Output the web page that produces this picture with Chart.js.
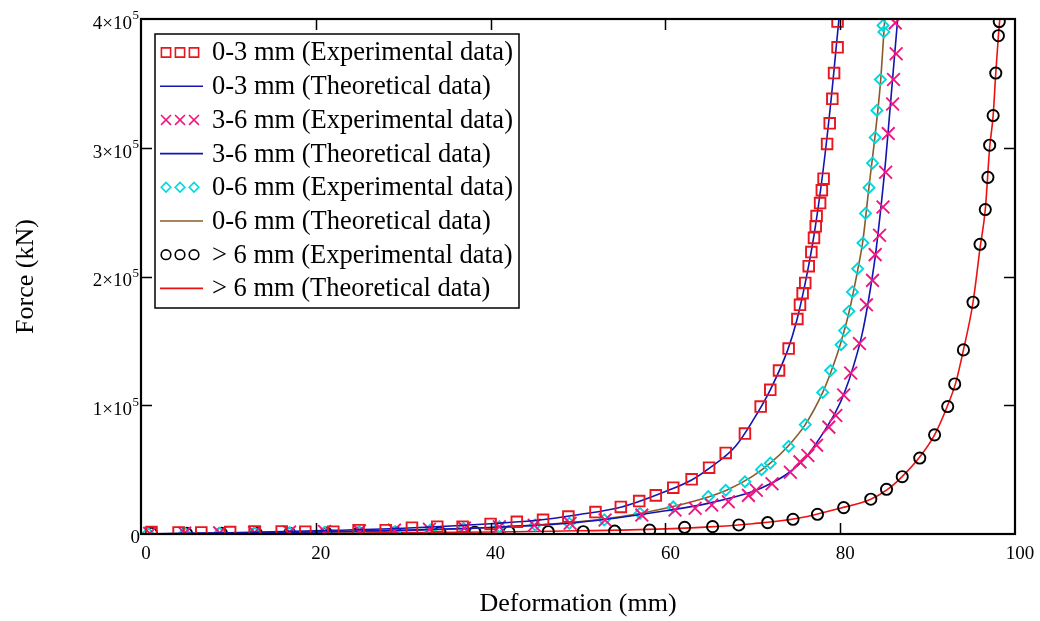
<!DOCTYPE html>
<html>
<head>
<meta charset="utf-8">
<script src="https://cdn.jsdelivr.net/npm/chart.js@4.4.0/dist/chart.umd.min.js"></script>
<style>
    html, body { margin: 0; padding: 0; background: #fff; }
</style>
</head>
<body>
<canvas id="forceChart" width="1040" height="621"></canvas>
<script>
// experimental points (deformation mm / force kN)
const exp03X = [1.2, 4.3, 6.9, 10.2, 13.0, 16.1, 18.8, 22.0, 24.9, 28.0, 31.0, 33.9, 36.8, 40.0, 43.0, 46.0, 48.9, 52.0, 54.9, 57.0, 58.9, 60.9, 63.0, 65.0, 66.9, 69.1, 70.9, 72.0, 73.0, 74.1, 75.1, 75.4, 75.7, 76.0, 76.4, 76.7, 77.0, 77.2, 77.3, 77.7, 77.9, 78.1, 78.5, 78.8, 79.1, 79.3, 79.7, 79.7];
const exp03Y = [1500, 1200, 1200, 1500, 2000, 2000, 1800, 1800, 3000, 3000, 4900, 5700, 5700, 7800, 9500, 11000, 13500, 17000, 21000, 25600, 30000, 36000, 42500, 51500, 63000, 78000, 99000, 112000, 127000, 144000, 167000, 178000, 187000, 195000, 208000, 219000, 230000, 239000, 247000, 257000, 267000, 276000, 303000, 319000, 338000, 358000, 378000, 398000];

const exp36X = [1, 5, 9, 13, 17, 21, 25, 29, 33, 37, 41, 45, 49.1, 53.1, 57.3, 61.1, 63.4, 65.3, 67.2, 69.5, 70.4, 72.2, 74.3, 75.4, 76.3, 77.3, 78.7, 79.5, 80.4, 81.2, 82.2, 83.0, 83.7, 84.0, 84.5, 84.9, 85.2, 85.5, 86.0, 86.1, 86.4, 86.3];
const exp36Y = [500, 700, 900, 1200, 1500, 1900, 2400, 3000, 3700, 4600, 5600, 6800, 8300, 10900, 14700, 18600, 20000, 22500, 25000, 30000, 34000, 39000, 48000, 56000, 61000, 69000, 83000, 92000, 108000, 125000, 148000, 178000, 197000, 217000, 232000, 254000, 281000, 311000, 334000, 353000, 373000, 397000];

const exp06X = [0.8, 5, 9, 13, 17, 21, 25, 29.1, 33.1, 36.9, 41.0, 45.1, 49.0, 53.0, 57.1, 60.9, 64.9, 66.9, 69.1, 71.0, 72.0, 74.1, 76.0, 78.0, 78.9, 80.1, 80.5, 81.0, 81.4, 82.0, 82.6, 82.9, 83.3, 83.7, 84.0, 84.2, 84.6, 85.0, 84.9];
const exp06Y = [600, 700, 800, 900, 1100, 1300, 1500, 1800, 3000, 4400, 5700, 7000, 8300, 11000, 16000, 21000, 29000, 34000, 40600, 50000, 55000, 68000, 85000, 110000, 127000, 147000, 158000, 173000, 188000, 206000, 226000, 249000, 269000, 288000, 308000, 329000, 353000, 390000, 395000];

const exp6X = [1.2, 5.2, 9.2, 13.2, 17.0, 21.2, 24.9, 29.1, 34.2, 38.2, 42.1, 46.6, 50.6, 54.2, 58.2, 62.2, 65.4, 68.4, 71.7, 74.6, 77.4, 80.4, 83.5, 85.3, 87.1, 89.1, 90.8, 92.3, 93.1, 94.1, 95.2, 96.0, 96.6, 96.9, 97.1, 97.5, 97.8, 98.1, 98.2];
const exp6Y = [500, 500, 500, 500, 500, 700, 800, 1000, 1200, 1400, 1600, 1800, 1800, 2200, 3000, 5200, 5700, 7000, 8800, 11400, 15300, 20500, 27000, 34700, 44500, 59000, 77000, 99000, 116500, 143000, 180000, 225000, 252000, 277000, 302000, 325000, 358000, 387000, 398000];

// theoretical curves, sampled along the drawn lines
const th03X = [0, 10, 20, 30, 40, 45, 50, 55, 60, 63, 65, 68, 70, 72, 74, 75, 76, 77, 78, 79, 79.5, 80];
const th03Y = [0, 1000, 2500, 4500, 8000, 10500, 15000, 21000, 33000, 42000, 51000, 68000, 88000, 112000, 143000, 165000, 195000, 232000, 280000, 340000, 375000, 410000];

const th36X = [0, 20, 30, 40, 50, 55, 60, 65, 70, 72, 74, 76, 78, 79.5, 80.5, 81.5, 82.5, 83.2, 84, 84.6, 85.2, 85.7, 86.2, 86.7];
const th36Y = [0, 1500, 3000, 5000, 9000, 13000, 18000, 24000, 33000, 39000, 47000, 59000, 78000, 95000, 110000, 130000, 155000, 180000, 215000, 250000, 290000, 330000, 370000, 410000];

const th06X = [0, 20, 30, 40, 50, 55, 60, 65, 67, 70, 72, 74, 76, 78, 79, 80, 81, 82, 82.6, 83.3, 84, 84.6, 85.0, 85.2];
const th06Y = [0, 1500, 2500, 5000, 9500, 13500, 20000, 29000, 34000, 45000, 55000, 68000, 85000, 110000, 127000, 147000, 172000, 205000, 228000, 270000, 310000, 350000, 390000, 410000];

const th6X = [0, 20, 40, 50, 55, 60, 65, 70, 75, 80, 83.5, 85.3, 87, 89, 90.8, 92.3, 93.2, 94.1, 95.2, 96.0, 96.6, 97.1, 97.5, 97.8, 98.1, 98.4];
const th6Y = [0, 500, 1500, 2500, 3000, 4000, 5500, 8000, 12000, 20000, 27000, 34000, 44000, 59000, 77000, 100000, 117000, 143000, 180000, 222000, 252000, 300000, 325000, 358000, 387000, 410000];

const seriesLabels = [
    '0-3 mm (Experimental data)', '0-3 mm (Theoretical data)',
    '3-6 mm (Experimental data)', '3-6 mm (Theoretical data)',
    '0-6 mm (Experimental data)', '0-6 mm (Theoretical data)',
    '> 6 mm (Experimental data)', '> 6 mm (Theoretical data)'
];
// y tick labels: mantissa part and power of ten (drawn as superscript)
const yTickBase = ['0', '1×10', '2×10', '3×10', '4×10'];
const yTickExp = ['', '5', '5', '5', '5'];

const SERIF = '"Liberation Serif", "Times New Roman", serif';

function toPoints(xs, ys) {
    return xs.map((x, i) => ({x: x, y: ys[i]}));
}

function markers(label, xs, ys, color, style, radius) {
    return {
        label: label,
        data: toPoints(xs, ys),
        showLine: false,
        pointStyle: style,
        pointRadius: radius,
        pointBorderWidth: 1.9,
        borderColor: color,
        backgroundColor: 'rgba(0,0,0,0)'
    };
}

function curve(label, xs, ys, color) {
    return {
        label: label,
        data: toPoints(xs, ys),
        showLine: true,
        pointRadius: 0,
        borderWidth: 1.6,
        borderColor: color,
        backgroundColor: color,
        cubicInterpolationMode: 'monotone'
    };
}

// black frame with inward ticks on all four sides
const framePlugin = {
    id: 'frame',
    afterDatasetsDraw(chart) {
        const {ctx, chartArea: a, scales} = chart;
        ctx.save();
        ctx.strokeStyle = '#000';
        ctx.lineWidth = 1.5;
        ctx.beginPath();
        scales.x.ticks.forEach(t => {
            const px = Math.round(scales.x.getPixelForValue(t.value)) + 0.5;
            if (px < a.left + 2 || px > a.right - 2) return;
            ctx.moveTo(px, a.bottom);
            ctx.lineTo(px, a.bottom - 11);
            ctx.moveTo(px, a.top);
            ctx.lineTo(px, a.top + 11);
        });
        scales.y.ticks.forEach(t => {
            const py = Math.round(scales.y.getPixelForValue(t.value)) + 0.5;
            if (py < a.top + 2 || py > a.bottom - 2) return;
            ctx.moveTo(a.left, py);
            ctx.lineTo(a.left + 11, py);
            ctx.moveTo(a.right, py);
            ctx.lineTo(a.right - 11, py);
        });
        ctx.stroke();
        ctx.lineWidth = 2.2;
        ctx.strokeRect(a.left, a.top, a.right - a.left, a.bottom - a.top);
        ctx.restore();
    }
};

// y tick labels with a raised exponent
const yLabels = {
    id: 'yLabels',
    afterDraw(chart) {
        const {ctx, chartArea: a, scales} = chart;
        ctx.save();
        ctx.fillStyle = '#000';
        ctx.textBaseline = 'middle';
        ctx.textAlign = 'right';
        scales.y.ticks.forEach(t => {
            const i = Math.round(t.value / 100000);
            const py = scales.y.getPixelForValue(t.value);
            const right = a.left - 2;
            if (yTickExp[i]) {
                ctx.font = '13px ' + SERIF;
                ctx.fillText(yTickExp[i], right, py - 3);
                ctx.font = '19px ' + SERIF;
                ctx.fillText(yTickBase[i], right - 7, py + 5);
            } else {
                ctx.font = '19px ' + SERIF;
                ctx.fillText(yTickBase[i], right + 1, py + 4);
            }
        });
        ctx.restore();
    }
};

// boxed legend inside the plot, top left
const boxLegend = {
    id: 'boxLegend',
    afterDraw(chart) {
        const {ctx, chartArea: a} = chart;
        const x0 = a.left + 14;
        const y0 = a.top + 15;
        const w = 364, h = 274, rowH = 33.7;
        ctx.save();
        ctx.fillStyle = '#fff';
        ctx.fillRect(x0, y0, w, h);
        ctx.strokeStyle = '#000';
        ctx.lineWidth = 1.5;
        ctx.strokeRect(x0, y0, w, h);

        chart.data.datasets.forEach((ds, i) => {
            const cy = y0 + 18.5 + i * rowH;
            ctx.strokeStyle = ds.borderColor;
            ctx.fillStyle = 'rgba(0,0,0,0)';
            if (ds.showLine) {
                ctx.lineWidth = 1.6;
                ctx.beginPath();
                ctx.moveTo(x0 + 5, cy);
                ctx.lineTo(x0 + 48, cy);
                ctx.stroke();
            } else {
                const r = ds.pointStyle === 'crossRot' ? 7 : (ds.pointStyle === 'rect' ? 6.5 : 4.8);
                [x0 + 11, x0 + 25, x0 + 39].forEach(cx => {
                    ctx.lineWidth = 1.6;
                    Chart.helpers.drawPoint(ctx, {pointStyle: ds.pointStyle, radius: r, borderWidth: 1.6, rotation: 0}, cx, cy);
                });
            }
            ctx.fillStyle = '#000';
            ctx.font = '26.5px ' + SERIF;
            ctx.textBaseline = 'middle';
            ctx.textAlign = 'left';
            ctx.fillText(ds.label, x0 + 57, cy + 1);
        });
        ctx.restore();
    }
};

const datasets = [
    markers(seriesLabels[0], exp03X, exp03Y, '#e8161e', 'rect', 7.5),
    curve(seriesLabels[1], th03X, th03Y, '#1414b4'),
    markers(seriesLabels[2], exp36X, exp36Y, '#f0157f', 'crossRot', 9),
    curve(seriesLabels[3], th36X, th36Y, '#1414b4'),
    markers(seriesLabels[4], exp06X, exp06Y, '#00d8dc', 'rectRot', 5.5),
    curve(seriesLabels[5], th06X, th06Y, '#8b5a2b'),
    markers(seriesLabels[6], exp6X, exp6Y, '#000000', 'circle', 5.6),
    curve(seriesLabels[7], th6X, th6Y, '#ee1111')
];

new Chart(document.getElementById('forceChart'), {
    type: 'scatter',
    data: {datasets: datasets},
    options: {
        responsive: false,
        animation: false,
        events: [],
        layout: {padding: {top: 19, right: 25, left: 0, bottom: 0}},
        plugins: {
            legend: {display: false},
            tooltip: {enabled: false}
        },
        scales: {
            x: {
                type: 'linear',
                min: 0,
                max: 100,
                afterFit: scale => { scale.height = 87; },
                grid: {display: false, drawTicks: false},
                border: {display: false},
                ticks: {
                    stepSize: 20,
                    padding: 9,
                    labelOffset: 5,
                    color: '#000',
                    font: {family: SERIF, size: 19}
                },
                title: {
                    display: true,
                    text: 'Deformation (mm)',
                    color: '#000',
                    padding: {top: 0, bottom: 1},
                    font: {family: SERIF, size: 26}
                }
            },
            y: {
                type: 'linear',
                min: 0,
                max: 400000,
                afterFit: scale => { scale.width = 141; },
                grid: {display: false, drawTicks: false},
                border: {display: false},
                ticks: {
                    display: false,
                    stepSize: 100000
                },
                title: {
                    display: true,
                    text: 'Force (kN)',
                    color: '#000',
                    padding: {top: 11, bottom: 0},
                    font: {family: SERIF, size: 26}
                }
            }
        }
    },
    plugins: [framePlugin, yLabels, boxLegend]
});
</script>
</body>
</html>
